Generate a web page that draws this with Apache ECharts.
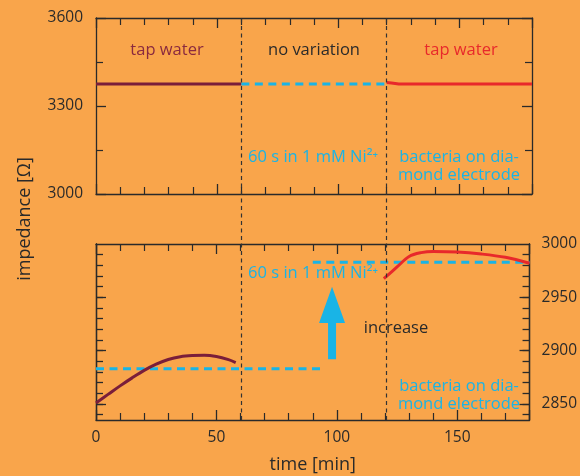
<!DOCTYPE html>
<html><head><meta charset="utf-8">
<script src="https://cdn.jsdelivr.net/npm/echarts@6/dist/echarts.min.js"></script>
<style>html,body{margin:0;padding:0;background:#F9A54B;}#c{width:580px;height:476px;}</style>
</head><body><div id="c"></div>
<script>
// ---- data ----
const xTickLabels = [0, 50, 100, 150];
const topYTicks = [3000, 3300, 3600];
const bottomYLabels = [2850, 2900, 2950, 3000];
const bottomYMinor = [2840, 2850, 2860, 2870, 2880, 2890, 2900, 2910, 2920, 2930, 2940, 2950, 2960, 2970, 2980, 2990];
const bottomYMajor = [2850, 2900, 2950];
// top panel
const topTap1 = [[0, 3375], [60, 3375]];
const topNi = [[60, 3375], [120, 3375]];
const topTap2 = [[120, 3380], [122, 3378.5], [125, 3375], [180, 3375]];
// bottom panel
const botTap1 = [[0, 2851], [5, 2859], [10, 2867], [15, 2874.5], [20, 2881.5], [25, 2887.3], [30, 2891.7], [35, 2894.3], [40, 2895.4], [45, 2895.7], [50, 2894.5], [55, 2891.6], [58, 2888.9]];
const botLevelLow = [[0, 2883], [93, 2883]];
const botLevelHigh = [[90, 2982.8], [180, 2982.8]];
const botTap2 = [[119.5, 2967.5], [125, 2978.5], [130, 2988.3], [135, 2991.9], [140, 2993], [150, 2992.5], [160, 2990.6], [170, 2987.5], [180, 2982]];
const arrow = [[98, 2892, 2926, 2960]]; // x, bottom, head base, tip
const phaseLines = [60, 120];

const C_BG = '#F9A54B', C_DARK = '#7A1E3A', C_RED = '#E8292B', C_CYAN = '#19B4E6', C_AX = '#2a2a2a';
const FONT = '"Open Sans", "Noto Sans", sans-serif';
const plain = v => String(v);

const chart = echarts.init(document.getElementById('c'), null, {renderer: 'canvas'});

function xAx(grid, pos, showLabels) {
  return {
    type: 'value', gridIndex: grid, position: pos, min: 0, max: 180, interval: 50,
    axisLine: {show: true, onZero: false, lineStyle: {color: C_AX, width: 1.3}},
    axisTick: {show: true, inside: true, length: 10, lineStyle: {color: C_AX, width: 1.3}},
    minorTick: {show: true, splitNumber: 5, length: 7, lineStyle: {color: C_AX, width: 1.2}},
    splitLine: {show: false},
    axisLabel: {show: showLabels, customValues: xTickLabels, formatter: plain, color: C_AX, fontSize: 15.5, fontFamily: FONT, margin: 10},
    name: showLabels ? 'time [min]' : '', nameLocation: 'middle', nameGap: 36,
    nameTextStyle: {color: C_AX, fontSize: 18, fontFamily: FONT}
  };
}
function yCustom(grid, pos, ticks, len, labels) {
  return {
    type: 'value', gridIndex: grid, position: pos, min: 2835, max: 3000,
    axisLine: {show: true, onZero: false, lineStyle: {color: C_AX, width: 1.3}},
    axisTick: {show: true, inside: true, length: len, customValues: ticks, lineStyle: {color: C_AX, width: 1.3}},
    splitLine: {show: false},
    axisLabel: labels ? {show: true, customValues: labels, formatter: plain, color: C_AX, fontSize: 15.5, fontFamily: FONT, margin: 12} : {show: false}
  };
}
function yTop(pos, showLabels) {
  return {
    type: 'value', gridIndex: 0, position: pos, min: 3000, max: 3600, interval: 300,
    axisLine: {show: true, onZero: false, lineStyle: {color: C_AX, width: 1.3}},
    axisTick: {show: true, inside: true, length: 10, lineStyle: {color: C_AX, width: 1.3}},
    minorTick: {show: true, splitNumber: 2, length: 7, lineStyle: {color: C_AX, width: 1.2}},
    splitLine: {show: false},
    axisLabel: {show: showLabels, customValues: topYTicks, formatter: plain, color: C_AX, fontSize: 15.5, fontFamily: FONT, margin: 13}
  };
}

function lineS(data, xi, yi, color, dashed, smooth) {
  return {
    type: 'line', xAxisIndex: xi, yAxisIndex: yi, data: data, showSymbol: false, symbol: 'none',
    smooth: smooth ? 0.35 : false, silent: true, z: 3,
    lineStyle: {color: color, width: 3, type: dashed ? [8, 5.5] : 'solid'}
  };
}

function txt(text, x, y, color) {
  return {type: 'text', x: x, y: y, silent: true, z: 10,
    style: {text: text, fill: color, font: '16.5px ' + FONT, align: 'center', verticalAlign: 'middle', lineHeight: 18}};
}

const option = {
  backgroundColor: C_BG,
  animation: false,
  grid: [
    {left: 96, right: 48, top: 18, height: 176},
    {left: 96, right: 48, top: 244, height: 176},
    {left: 96, right: 48, top: 18, height: 402}
  ],
  xAxis: [
    xAx(0, 'bottom', false),
    xAx(0, 'top', false),
    xAx(1, 'bottom', true),
    xAx(1, 'top', false),
    {type: 'value', gridIndex: 2, min: 0, max: 180, show: false}
  ],
  yAxis: [
    yTop('left', true),
    yTop('right', false),
    yCustom(1, 'left', bottomYMinor, 7, null),
    yCustom(1, 'left', bottomYMajor, 10, null),
    yCustom(1, 'right', bottomYMinor, 7, bottomYLabels),
    yCustom(1, 'right', bottomYMajor, 10, null),
    {type: 'value', gridIndex: 2, min: 0, max: 1, position: 'left',
     axisLine: {show: false}, axisTick: {show: false}, axisLabel: {show: false}, splitLine: {show: false},
     name: 'impedance [Ω]', nameLocation: 'middle', nameGap: 62, nameRotate: 90,
     nameTextStyle: {color: C_AX, fontSize: 18, fontFamily: FONT}}
  ],
  series: [
    lineS(topTap1, 0, 0, C_DARK, false, false),
    lineS(topNi, 0, 0, C_CYAN, true, false),
    lineS(topTap2, 0, 0, C_RED, false, false),
    lineS(botLevelLow, 2, 2, C_CYAN, true, false),
    lineS(botLevelHigh, 2, 2, C_CYAN, true, false),
    lineS(botTap1, 2, 2, C_DARK, false, true),
    lineS(botTap2, 2, 2, C_RED, false, true),
    {
      type: 'custom', xAxisIndex: 2, yAxisIndex: 2, data: arrow, silent: true, z: 4,
      renderItem: function (params, api) {
        const b = api.coord([api.value(0), api.value(1)]);
        const h = api.coord([api.value(0), api.value(2)]);
        const t = api.coord([api.value(0), api.value(3)]);
        const x = b[0];
        return {type: 'polygon', shape: {points: [
          [x - 4, b[1]], [x - 4, h[1]], [x - 13, h[1]], [t[0], t[1]], [x + 13, h[1]], [x + 4, h[1]], [x + 4, b[1]]
        ]}, style: {fill: C_CYAN}};
      }
    },
    {
      type: 'line', xAxisIndex: 4, yAxisIndex: 6, data: [], silent: true,
      markLine: {symbol: 'none', silent: true, animation: false, label: {show: false},
        lineStyle: {color: '#333', width: 1.2, type: [4, 3.5]},
        data: phaseLines.map(v => ({xAxis: v}))}
    }
  ],
  graphic: [
    txt('tap water', 167, 50, '#8A2A3F'),
    txt('no variation', 314, 50, '#2a2a2a'),
    txt('tap water', 461, 50, C_RED),
    txt('60 s in 1 mM Ni²⁺', 313, 157, C_CYAN),
    txt('bacteria on dia-\nmond electrode', 459, 166, C_CYAN),
    txt('60 s in 1 mM Ni²⁺', 313, 273, C_CYAN),
    txt('increase', 396, 328, '#2a2a2a'),
    txt('bacteria on dia-\nmond electrode', 459, 395, C_CYAN)
  ]
};
chart.setOption(option);
</script></body></html>
